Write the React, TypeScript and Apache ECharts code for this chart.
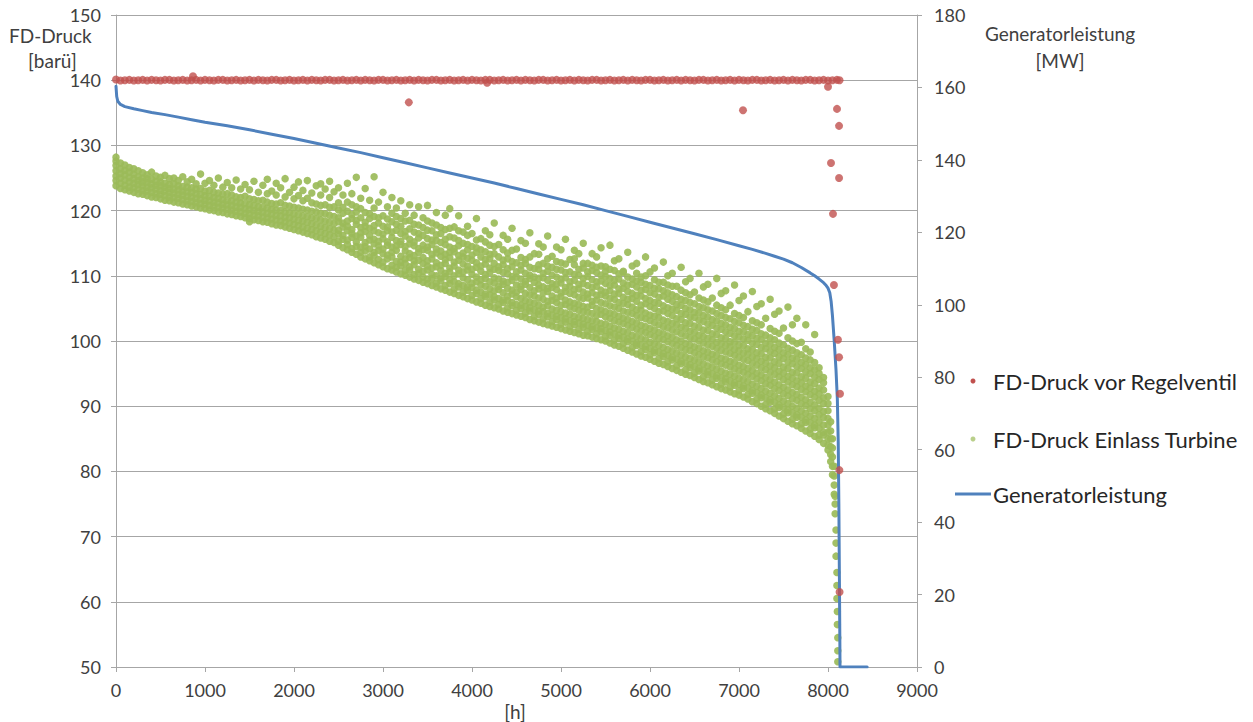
import React, { useEffect, useRef } from "react";
import * as echarts from "echarts";

// ---------- DATA ----------
// Generatorleistung [MW] (right axis) over sorted hours
const blueHours = [0, 8, 20, 50, 100, 200, 300, 400, 550, 700, 850, 1000, 1250, 1500, 1750, 2000, 2250, 2500, 2750, 3000, 3250, 3500, 3750, 4000, 4250, 4500, 4750, 5000, 5250, 5500, 5750, 6000, 6250, 6500, 6750, 7000, 7150, 7300, 7400, 7500, 7600, 7700, 7800, 7850, 7900, 7950, 7980, 8000, 8020, 8035, 8050, 8070, 8090, 8105, 8115, 8122, 8128, 8133, 8135, 8440];
const blueMW = [160.3, 157.5, 156.2, 155.3, 154.7, 154.1, 153.6, 153.1, 152.5, 151.8, 151.1, 150.4, 149.4, 148.3, 147.1, 145.9, 144.6, 143.3, 142.0, 140.6, 139.2, 137.8, 136.4, 135.0, 133.6, 132.1, 130.6, 129.1, 127.6, 126.0, 124.4, 122.8, 121.2, 119.6, 118.0, 116.3, 115.3, 114.2, 113.4, 112.6, 111.6, 110.3, 108.8, 108.0, 107.1, 106.1, 105.3, 104.6, 103.3, 101.0, 97.0, 90.0, 82.0, 74.0, 62.0, 45.0, 25.0, 8.0, 0.0, 0.0];

// FD-Druck vor Regelventil [barü] (left axis)
const redBandHours = [0, 50, 100, 150, 200, 250, 300, 350, 400, 450, 500, 550, 600, 650, 700, 750, 800, 850, 900, 950, 1000, 1050, 1100, 1150, 1200, 1250, 1300, 1350, 1400, 1450, 1500, 1550, 1600, 1650, 1700, 1750, 1800, 1850, 1900, 1950, 2000, 2050, 2100, 2150, 2200, 2250, 2300, 2350, 2400, 2450, 2500, 2550, 2600, 2650, 2700, 2750, 2800, 2850, 2900, 2950, 3000, 3050, 3100, 3150, 3200, 3250, 3300, 3350, 3400, 3450, 3500, 3550, 3600, 3650, 3700, 3750, 3800, 3850, 3900, 3950, 4000, 4050, 4100, 4150, 4200, 4250, 4300, 4350, 4400, 4450, 4500, 4550, 4600, 4650, 4700, 4750, 4800, 4850, 4900, 4950, 5000, 5050, 5100, 5150, 5200, 5250, 5300, 5350, 5400, 5450, 5500, 5550, 5600, 5650, 5700, 5750, 5800, 5850, 5900, 5950, 6000, 6050, 6100, 6150, 6200, 6250, 6300, 6350, 6400, 6450, 6500, 6550, 6600, 6650, 6700, 6750, 6800, 6850, 6900, 6950, 7000, 7050, 7100, 7150, 7200, 7250, 7300, 7350, 7400, 7450, 7500, 7550, 7600, 7650, 7700, 7750, 7800, 7850, 7900, 7950, 8000, 8050, 8100, 8130];
const redBandValues = [140.1, 139.95, 140.0, 140.05, 139.95, 140.0, 140.05, 139.95, 140.05, 140.0, 139.95, 140.05, 140.05, 139.95, 140.0, 140.05, 139.95, 140.0, 140.05, 139.95, 140.05, 140.0, 139.95, 140.05, 140.05, 139.95, 140.0, 140.05, 139.95, 140.0, 140.05, 139.95, 140.05, 140.0, 139.95, 140.05, 140.05, 139.95, 140.0, 140.05, 139.95, 140.0, 140.05, 139.95, 140.05, 140.0, 139.95, 140.05, 140.05, 139.95, 140.0, 140.05, 139.95, 140.0, 140.05, 139.95, 140.05, 140.0, 139.95, 140.05, 140.05, 139.95, 140.0, 140.05, 139.95, 140.0, 140.05, 139.95, 140.05, 140.0, 139.95, 140.05, 140.05, 139.95, 140.0, 140.05, 139.95, 140.0, 140.05, 139.95, 140.05, 140.0, 139.95, 140.05, 140.05, 139.95, 140.0, 140.05, 139.95, 140.0, 140.05, 139.95, 140.05, 140.0, 139.95, 140.05, 140.05, 139.95, 140.0, 140.05, 139.95, 140.0, 140.05, 139.95, 140.05, 140.0, 139.95, 140.05, 140.05, 139.95, 140.0, 140.05, 139.95, 140.0, 140.05, 139.95, 140.05, 140.0, 139.95, 140.05, 140.05, 139.95, 140.0, 140.05, 139.95, 140.0, 140.05, 139.95, 140.05, 140.0, 139.95, 140.05, 140.05, 139.95, 140.0, 140.05, 139.95, 140.0, 140.05, 139.95, 140.05, 140.0, 139.95, 140.05, 140.05, 139.95, 140.0, 140.05, 139.95, 140.0, 140.05, 139.95, 140.05, 140.0, 139.95, 140.05, 140.05, 139.95, 140.0, 140.05, 139.95, 140.0, 140.05, 140.0];
const redOutlierHours = [865, 3290, 4170, 7045, 8000, 8101, 8124, 8034, 8124, 8056, 8067, 8112, 8124, 8135, 8128, 8130];
const redOutlierValues = [140.6, 136.6, 139.6, 135.4, 139.0, 135.6, 133.0, 127.3, 125.0, 119.5, 108.6, 100.2, 97.5, 91.9, 80.2, 61.5];

// FD-Druck Einlass Turbine [barü] (left axis): values read per hour column
const greenHours = [0, 50, 100, 150, 200, 250, 300, 350, 400, 450, 500, 550, 600, 650, 700, 750, 800, 850, 900, 950, 1000, 1050, 1100, 1150, 1200, 1250, 1300, 1350, 1400, 1450, 1500, 1550, 1600, 1650, 1700, 1750, 1800, 1850, 1900, 1950, 2000, 2050, 2100, 2150, 2200, 2250, 2300, 2350, 2400, 2450, 2500, 2550, 2600, 2650, 2700, 2750, 2800, 2850, 2900, 2950, 3000, 3050, 3100, 3150, 3200, 3250, 3300, 3350, 3400, 3450, 3500, 3550, 3600, 3650, 3700, 3750, 3800, 3850, 3900, 3950, 4000, 4050, 4100, 4150, 4200, 4250, 4300, 4350, 4400, 4450, 4500, 4550, 4600, 4650, 4700, 4750, 4800, 4850, 4900, 4950, 5000, 5050, 5100, 5150, 5200, 5250, 5300, 5350, 5400, 5450, 5500, 5550, 5600, 5650, 5700, 5750, 5800, 5850, 5900, 5950, 6000, 6050, 6100, 6150, 6200, 6250, 6300, 6350, 6400, 6450, 6500, 6550, 6600, 6650, 6700, 6750, 6800, 6850, 6900, 6950, 7000, 7050, 7100, 7150, 7200, 7250, 7300, 7350, 7400, 7450, 7500, 7550, 7600, 7650, 7700, 7750, 7800, 7850, 7900, 7950, 8000, 8030, 8050, 8070, 8080, 8090, 8100, 8105, 8110];
const greenValues = [
  [123.8, 124.6, 125.3, 126.1, 126.9, 127.6, 128.2],
  [123.4, 124.2, 125.0, 125.7, 126.4, 127.3],
  [123.2, 123.9, 124.7, 125.5, 126.2, 127.0],
  [123.0, 123.6, 124.4, 125.1, 125.9, 126.6],
  [122.8, 123.5, 124.2, 124.9, 125.6, 126.4],
  [122.6, 123.3, 124.0, 124.6, 125.2, 126.1],
  [122.5, 123.1, 123.8, 124.4, 125.0, 125.8],
  [122.3, 123.0, 123.6, 124.3, 124.9, 125.5],
  [122.1, 122.8, 123.5, 124.1, 124.8, 125.9],
  [122.0, 122.6, 123.3, 123.9, 124.5, 125.3],
  [121.8, 122.5, 123.1, 123.8, 124.4, 125.1],
  [121.6, 122.3, 123.0, 123.6, 124.2, 125.4],
  [121.5, 122.1, 122.8, 123.4, 124.0, 124.9],
  [121.3, 122.0, 122.7, 123.3, 124.1, 125.0],
  [121.2, 121.9, 122.5, 123.2, 123.8, 124.6],
  [121.0, 121.7, 122.4, 123.0, 123.7, 125.2],
  [120.9, 121.5, 122.2, 122.9, 123.6, 124.4],
  [120.7, 121.4, 122.1, 122.8, 123.5, 124.8],
  [120.6, 121.2, 121.9, 122.6, 123.3, 124.1],
  [120.4, 121.1, 121.8, 122.5, 123.4, 125.6],
  [120.3, 121.0, 121.6, 122.3, 123.0, 124.2],
  [120.1, 120.8, 121.5, 122.2, 123.1, 124.6],
  [120.0, 120.7, 121.3, 122.0, 122.8, 123.9],
  [119.8, 120.5, 121.2, 121.9, 122.7, 125.0],
  [119.7, 120.4, 121.0, 121.7, 122.5, 123.6],
  [119.5, 120.2, 120.9, 121.6, 122.6, 124.3],
  [119.4, 120.1, 120.8, 121.5, 122.4, 123.5],
  [119.2, 119.9, 120.6, 121.3, 122.1, 124.7],
  [119.1, 119.8, 120.5, 121.2, 122.0, 123.3],
  [118.9, 119.6, 120.3, 121.1, 122.2, 124.0],
  [118.3, 118.8, 119.5, 120.2, 120.9, 121.8, 123.2],
  [118.6, 119.3, 120.0, 120.8, 121.7, 124.5],
  [118.5, 119.2, 119.9, 120.6, 121.5, 122.8],
  [118.3, 119.0, 119.8, 120.5, 121.6, 123.9],
  [118.2, 118.9, 119.6, 120.4, 121.3, 122.6, 124.8],
  [118.0, 118.7, 119.5, 120.2, 121.1, 123.0],
  [117.8, 118.6, 119.3, 120.1, 121.0, 122.4, 124.2],
  [117.7, 118.4, 119.2, 120.0, 121.2, 123.5],
  [117.5, 118.3, 119.0, 119.8, 120.8, 122.1, 124.9],
  [117.3, 118.1, 118.9, 119.7, 120.7, 122.8],
  [117.1, 117.9, 118.7, 119.5, 120.5, 121.8, 123.6],
  [116.9, 117.7, 118.5, 119.4, 120.4, 122.3, 124.4],
  [116.7, 117.5, 118.4, 119.2, 120.2, 121.5, 123.1],
  [116.5, 117.3, 118.2, 119.1, 120.1, 121.9, 124.6],
  [116.3, 117.1, 118.0, 118.9, 119.9, 121.2, 122.7],
  [116.0, 116.9, 117.8, 118.8, 119.8, 121.0, 123.8],
  [115.8, 116.7, 117.6, 118.6, 119.6, 120.8, 122.4, 124.1],
  [115.6, 116.5, 117.4, 118.4, 119.5, 120.9, 123.3],
  [115.3, 116.3, 117.2, 118.2, 119.3, 120.5, 122.0, 124.5],
  [115.1, 116.0, 117.0, 118.0, 119.1, 120.6, 122.9],
  [114.7, 115.3, 116.4, 117.0, 118.3, 118.9, 120.1, 121.2, 123.5],
  [114.3, 115.6, 116.2, 117.5, 118.1, 119.6, 120.5, 122.4],
  [114.0, 114.8, 115.5, 116.9, 117.6, 118.4, 119.9, 121.3, 124.2],
  [113.6, 114.2, 115.9, 116.5, 117.1, 118.8, 119.4, 120.9, 122.6],
  [113.3, 114.5, 115.2, 116.1, 117.9, 118.5, 119.8, 120.6, 125.1],
  [112.9, 113.6, 114.4, 115.9, 116.6, 117.4, 118.9, 120.3, 121.9],
  [112.6, 113.8, 114.5, 115.1, 116.8, 117.6, 118.2, 119.7, 123.4],
  [112.3, 112.9, 114.1, 115.5, 116.2, 117.3, 118.8, 119.5, 121.6],
  [112.0, 113.1, 113.6, 114.9, 115.6, 116.9, 117.7, 119.1, 120.4, 125.2],
  [111.7, 112.5, 113.9, 114.6, 115.3, 116.6, 118.1, 118.9, 121.3],
  [111.4, 112.1, 113.4, 114.1, 115.7, 116.4, 117.6, 119.2, 122.8],
  [111.1, 112.6, 113.2, 114.7, 115.2, 116.9, 117.5, 118.7, 120.6],
  [110.9, 111.6, 112.9, 113.6, 114.4, 115.9, 116.7, 118.3, 119.6, 122.0],
  [110.6, 111.3, 112.2, 113.9, 114.6, 115.4, 117.0, 117.9, 119.1, 120.4],
  [110.3, 111.5, 112.1, 113.0, 114.8, 115.3, 116.5, 117.6, 118.8, 121.5],
  [110.1, 110.8, 111.9, 112.6, 113.8, 114.5, 116.1, 116.8, 118.4, 119.6],
  [109.8, 110.9, 111.4, 112.8, 113.4, 114.9, 115.6, 117.2, 118.5, 120.9],
  [109.5, 110.2, 111.7, 112.3, 113.1, 114.6, 115.2, 116.7, 117.9, 119.3],
  [109.3, 110.4, 111.0, 112.4, 113.6, 114.2, 115.8, 116.5, 117.8, 120.6],
  [109.0, 109.8, 110.7, 111.9, 112.8, 114.0, 114.7, 116.2, 117.4, 118.9],
  [108.8, 109.5, 110.9, 111.5, 112.3, 113.9, 114.4, 115.7, 117.0, 118.4, 120.8],
  [108.5, 109.6, 110.2, 111.2, 112.6, 113.3, 114.8, 115.5, 116.9, 118.1],
  [108.3, 108.9, 110.0, 111.4, 112.0, 113.5, 114.1, 115.4, 116.3, 117.8, 119.7],
  [108.0, 109.2, 109.7, 110.8, 111.6, 113.0, 113.8, 115.1, 116.5, 117.4],
  [107.8, 108.5, 109.9, 110.4, 111.9, 112.5, 113.3, 114.8, 115.6, 117.1, 119.3],
  [107.5, 108.8, 109.4, 110.6, 111.2, 112.8, 113.6, 114.4, 116.0, 117.3, 120.3],
  [107.3, 108.0, 109.1, 110.0, 111.5, 112.1, 113.7, 114.2, 115.8, 117.5],
  [107.0, 108.3, 108.8, 110.3, 110.9, 112.4, 113.1, 114.6, 115.4, 116.9, 119.2],
  [106.8, 107.5, 108.5, 109.7, 110.6, 111.8, 112.9, 113.5, 115.0, 116.7],
  [106.5, 107.8, 108.3, 109.4, 110.9, 111.5, 112.7, 114.0, 114.8, 116.2, 117.6],
  [106.3, 107.0, 108.2, 108.9, 110.2, 111.0, 112.4, 113.2, 114.5, 116.5],
  [106.0, 107.3, 107.8, 109.1, 109.8, 111.3, 112.0, 113.6, 114.3, 115.5, 118.8],
  [105.8, 106.5, 107.5, 108.6, 109.4, 110.7, 111.5, 112.9, 114.0, 115.7],
  [105.5, 106.8, 107.2, 108.4, 109.6, 110.2, 111.8, 112.5, 113.7, 115.2, 116.9],
  [105.3, 106.0, 107.1, 108.0, 109.1, 110.5, 111.2, 112.6, 113.3, 114.7, 116.3],
  [105.1, 106.3, 106.8, 107.7, 108.9, 109.7, 111.0, 111.9, 113.4, 114.5, 118.1],
  [104.9, 105.6, 106.5, 107.9, 108.4, 109.5, 110.8, 111.4, 112.9, 114.8],
  [104.6, 105.9, 106.3, 107.4, 108.7, 109.2, 110.5, 111.7, 112.4, 114.0, 116.2],
  [104.4, 105.1, 106.2, 106.9, 108.1, 109.0, 110.3, 111.1, 112.6, 113.5, 115.6],
  [104.2, 105.4, 105.9, 107.2, 107.8, 109.3, 109.9, 111.4, 112.2, 113.9, 117.3],
  [104.0, 104.7, 105.6, 106.8, 107.5, 108.6, 109.8, 110.6, 112.0, 114.1],
  [103.8, 105.0, 105.5, 106.5, 107.9, 108.4, 109.5, 110.9, 111.6, 112.8, 115.4],
  [103.6, 104.3, 105.3, 106.2, 107.3, 108.7, 109.2, 110.4, 111.9, 112.5, 115.0],
  [103.3, 104.6, 105.1, 106.0, 107.1, 108.2, 109.6, 110.1, 111.3, 112.9, 116.6],
  [103.1, 103.8, 104.8, 105.8, 106.9, 107.7, 109.0, 109.8, 111.1, 113.4],
  [102.9, 104.1, 104.6, 105.5, 106.6, 108.0, 108.6, 109.6, 111.0, 111.7, 113.3, 114.9],
  [102.7, 103.4, 104.5, 105.2, 106.4, 107.4, 108.3, 109.7, 110.4, 111.9, 114.4],
  [102.5, 103.7, 104.2, 105.4, 106.1, 107.6, 108.1, 109.3, 110.7, 111.5, 112.6, 116.1],
  [102.3, 103.0, 104.0, 104.9, 106.2, 106.9, 108.2, 108.8, 110.1, 111.3, 113.0],
  [102.1, 103.3, 103.8, 104.7, 105.9, 106.6, 107.9, 108.7, 109.8, 111.0, 112.2, 114.4],
  [101.9, 102.6, 103.6, 104.5, 105.5, 106.8, 107.4, 108.9, 109.5, 110.9, 112.0, 114.0],
  [101.7, 102.9, 103.4, 104.3, 105.6, 106.3, 107.6, 108.2, 109.7, 110.5, 111.8, 115.6],
  [101.5, 102.2, 103.1, 104.1, 105.2, 106.0, 107.3, 108.4, 109.1, 110.6, 112.5],
  [101.3, 102.5, 103.0, 103.8, 105.0, 105.8, 107.1, 107.9, 109.3, 110.2, 111.7, 112.6, 113.9],
  [101.1, 101.8, 102.8, 103.6, 104.7, 105.6, 106.7, 108.0, 108.7, 110.1, 111.0, 113.4],
  [100.9, 102.1, 102.6, 103.5, 104.5, 105.3, 106.5, 107.5, 108.8, 109.6, 111.2, 111.9, 115.0],
  [100.8, 101.5, 102.4, 103.3, 104.4, 105.2, 106.6, 107.2, 108.5, 109.9, 110.6, 111.9],
  [100.6, 101.8, 102.2, 103.1, 104.2, 105.5, 106.1, 107.4, 108.2, 109.4, 110.8, 111.6, 113.4],
  [100.4, 101.1, 102.0, 103.0, 103.9, 105.0, 106.3, 107.0, 108.4, 109.1, 110.5, 111.3, 112.9],
  [100.2, 101.4, 101.9, 102.7, 104.1, 104.8, 105.9, 107.1, 107.8, 109.2, 110.1, 111.5, 114.3],
  [100.0, 100.7, 101.6, 102.6, 103.7, 104.5, 105.7, 106.9, 107.5, 108.8, 109.9, 110.7, 111.4],
  [99.7, 100.9, 101.4, 102.3, 103.5, 104.3, 105.4, 106.5, 107.7, 108.5, 109.6, 111.0, 114.7],
  [99.4, 100.1, 101.1, 102.0, 103.1, 104.1, 105.2, 106.4, 107.2, 108.6, 109.3, 110.8, 112.3],
  [99.2, 100.4, 100.9, 101.8, 102.9, 103.8, 105.0, 105.9, 107.3, 108.0, 109.5, 110.3, 112.6],
  [98.9, 99.6, 100.6, 101.5, 102.7, 103.5, 104.6, 105.8, 106.7, 108.1, 108.9, 110.5, 110.7],
  [98.6, 99.9, 100.3, 101.3, 102.4, 103.3, 104.4, 105.6, 106.4, 107.6, 108.6, 109.8, 113.6],
  [98.3, 99.0, 100.0, 100.9, 102.1, 103.0, 104.2, 105.2, 106.5, 107.3, 108.7, 109.5, 111.5],
  [98.0, 99.3, 99.7, 100.7, 101.8, 102.8, 103.9, 104.8, 106.1, 107.0, 108.3, 109.2, 110.4, 111.9],
  [97.7, 98.4, 99.4, 100.4, 101.5, 102.4, 103.6, 104.7, 105.5, 106.9, 107.8, 109.0, 109.8],
  [97.5, 98.7, 99.2, 100.2, 101.3, 102.2, 103.4, 104.3, 105.7, 106.5, 107.9, 108.7, 110.0, 112.9],
  [97.2, 97.9, 98.9, 99.8, 101.0, 101.9, 103.1, 104.0, 105.3, 106.2, 107.4, 108.5, 110.6],
  [96.9, 98.2, 98.6, 99.6, 100.7, 101.7, 102.8, 103.8, 105.0, 105.9, 107.2, 108.1, 109.4, 111.2],
  [96.6, 97.3, 98.3, 99.3, 100.4, 101.3, 102.5, 103.6, 104.5, 105.8, 106.7, 108.0, 109.0],
  [96.4, 97.6, 98.1, 99.0, 100.2, 101.1, 102.2, 103.2, 104.6, 105.4, 106.9, 107.7, 109.0, 112.1],
  [96.1, 96.8, 97.8, 98.7, 99.9, 100.8, 102.0, 103.0, 104.2, 105.1, 106.4, 107.4, 108.6, 110.0],
  [95.8, 97.1, 97.5, 98.5, 99.6, 100.6, 101.7, 102.7, 103.9, 104.9, 106.1, 107.1, 108.4, 110.4],
  [95.5, 96.2, 97.2, 98.2, 99.3, 100.2, 101.4, 102.5, 103.4, 104.7, 105.6, 106.8, 108.4],
  [95.2, 96.5, 96.9, 97.9, 99.0, 100.0, 101.1, 102.1, 103.3, 104.2, 105.5, 106.4, 107.8, 111.3],
  [94.9, 95.6, 96.6, 97.6, 98.7, 99.6, 100.8, 101.9, 102.8, 104.1, 105.0, 106.2, 107.4, 109.1],
  [94.7, 95.9, 96.4, 97.3, 98.5, 99.4, 100.5, 101.5, 102.7, 103.7, 104.8, 105.9, 107.1, 109.6],
  [94.4, 95.1, 96.1, 97.1, 98.2, 99.1, 100.3, 101.3, 102.3, 103.6, 104.4, 105.7, 107.5],
  [94.1, 95.4, 95.8, 96.8, 97.9, 98.9, 100.0, 100.9, 102.1, 103.2, 104.3, 105.3, 106.6, 110.4],
  [93.8, 94.5, 95.5, 96.5, 97.6, 98.5, 99.7, 100.7, 101.7, 103.0, 103.9, 105.1, 106.3, 108.3],
  [93.6, 94.8, 95.3, 96.2, 97.4, 98.3, 99.4, 100.4, 101.6, 102.6, 103.7, 104.8, 106.0, 108.7],
  [93.3, 94.0, 95.0, 96.0, 97.1, 98.0, 99.2, 100.2, 101.1, 102.4, 103.3, 104.6, 106.6],
  [93.0, 94.3, 94.7, 95.7, 96.8, 97.8, 98.9, 99.8, 101.0, 102.0, 103.1, 104.2, 105.5, 109.6],
  [92.7, 93.4, 94.4, 95.4, 96.5, 97.4, 98.6, 99.6, 100.5, 101.8, 102.7, 103.9, 105.1, 107.3],
  [92.5, 93.7, 94.2, 95.1, 96.3, 97.2, 98.3, 99.3, 100.4, 101.4, 102.5, 103.6, 104.8, 107.7],
  [92.2, 92.9, 93.9, 94.9, 96.0, 96.9, 98.1, 99.1, 99.9, 101.2, 102.1, 103.4, 105.5],
  [91.9, 93.2, 93.6, 94.6, 95.7, 96.7, 97.8, 98.7, 99.8, 100.8, 101.9, 103.0, 104.2, 108.6],
  [91.7, 92.4, 93.4, 94.3, 95.4, 96.3, 97.5, 98.5, 99.4, 100.6, 101.5, 102.8, 103.9, 106.2],
  [91.4, 92.7, 93.1, 94.1, 95.2, 96.1, 97.2, 98.2, 99.3, 100.3, 101.4, 102.4, 103.6, 106.9],
  [91.1, 91.8, 92.8, 93.8, 94.9, 95.8, 97.0, 98.0, 98.8, 100.1, 101.0, 102.2, 104.5],
  [90.7, 92.0, 92.4, 93.4, 94.6, 95.5, 96.6, 97.6, 98.7, 99.7, 100.8, 101.8, 103.1, 107.6],
  [90.4, 91.1, 92.1, 93.1, 94.2, 95.1, 96.3, 97.3, 98.2, 99.5, 100.4, 101.6, 102.8, 105.3],
  [90.0, 91.3, 91.7, 92.7, 93.9, 94.8, 95.9, 96.9, 98.0, 99.0, 100.2, 101.1, 102.5, 105.7],
  [89.6, 90.3, 91.3, 92.3, 93.4, 94.4, 95.6, 96.6, 97.5, 98.8, 99.7, 100.9, 103.5],
  [89.3, 90.6, 91.0, 92.0, 93.2, 94.1, 95.2, 96.2, 97.4, 98.4, 99.5, 100.5, 101.9, 106.4],
  [88.9, 89.6, 90.6, 91.6, 92.7, 93.7, 94.9, 95.9, 96.8, 98.1, 99.0, 100.2, 101.5, 104.1],
  [88.5, 89.8, 90.2, 91.2, 92.4, 93.3, 94.5, 95.4, 96.6, 97.6, 98.7, 99.7, 101.2, 104.6],
  [88.1, 88.8, 89.8, 90.8, 91.9, 92.9, 94.1, 95.1, 96.0, 97.3, 98.2, 99.4, 102.0],
  [87.7, 89.0, 89.4, 90.4, 91.6, 92.5, 93.7, 94.6, 95.8, 96.8, 97.9, 98.9, 100.5, 105.2],
  [87.3, 88.0, 89.0, 90.0, 91.1, 92.1, 93.3, 94.3, 95.2, 96.5, 97.4, 98.6, 100.0, 102.5],
  [87.0, 88.3, 88.7, 89.7, 90.9, 91.8, 93.0, 93.9, 95.1, 96.1, 97.2, 98.2, 99.6, 103.5],
  [86.6, 87.3, 88.3, 89.3, 90.4, 91.4, 92.6, 93.6, 94.5, 95.8, 96.7, 97.9, 99.8],
  [86.2, 87.5, 87.9, 88.9, 90.1, 91.0, 92.2, 93.1, 94.3, 95.3, 96.4, 97.4, 98.8, 102.5],
  [85.8, 86.5, 87.5, 88.5, 89.6, 90.6, 91.8, 92.8, 93.7, 95.0, 95.9, 97.1, 98.3],
  [85.4, 86.7, 87.1, 88.1, 89.3, 90.2, 91.4, 92.3, 93.5, 94.5, 95.6, 96.7, 101.0],
  [84.9, 85.6, 86.6, 87.6, 88.7, 89.7, 90.9, 91.9, 92.8, 94.1, 95.0, 95.9],
  [84.3, 85.6, 86.0, 87.1, 88.3, 89.2, 90.4, 91.3, 92.5, 93.6, 94.4],
  [83.3, 84.0, 85.0, 86.0, 87.1, 88.1, 89.3, 90.4, 91.5],
  [81.5, 82.6, 83.8, 85.0, 86.2, 87.6],
  [79.5, 80.8, 82.2, 83.6, 85.0],
  [76.5, 77.9, 79.3, 80.8],
  [73.5, 75.0, 76.2],
  [67.0, 69.0, 71.0],
  [60.5, 62.5, 64.5],
  [56.5, 58.5],
  [50.8, 52.5, 54.5],
];

const xMin = 0, xMax = 9000, xStep = 1000;
const leftMin = 50, leftMax = 150, leftStep = 10;
const rightMin = 0, rightMax = 180, rightStep = 20;

const legendLabels = ["FD-Druck vor Regelventil", "FD-Druck Einlass Turbine", "Generatorleistung"];

// ---------- STYLE ----------
const RED = "#C0504D";
const GREEN = "#9BBB59";
const BLUE = "#4F81BD";
const GRID = "#A6A6A6";
const TEXT = "#404040";
const FONT = "Lato, 'Open Sans', sans-serif";

export default function App() {
  const ref = useRef<HTMLDivElement>(null);

  useEffect(() => {
    document.body.style.margin = "0";
    const chart = echarts.init(ref.current as HTMLDivElement, null, { renderer: "svg" });

    const bluePoints = blueHours.map((h, i) => [h, blueMW[i]]);
    const redPoints = redBandHours.map((h, i) => [h, redBandValues[i]]).concat(
      redOutlierHours.map((h, i) => [h, redOutlierValues[i]])
    );
    const greenPoints: number[][] = [];
    greenHours.forEach((h, i) => {
      greenValues[i].forEach((v) => greenPoints.push([h, v]));
    });

    const legendFont = { fontSize: 22, fontFamily: FONT, fill: "#262626" };
    const nameFont = { fontSize: 19, fontFamily: FONT, fill: TEXT };

    chart.setOption({
      animation: false,
      backgroundColor: "#fff",
      textStyle: { fontFamily: FONT },
      grid: { left: 116, right: 336, top: 15, bottom: 55, containLabel: false },
      xAxis: {
        type: "value",
        min: xMin,
        max: xMax,
        interval: xStep,
        axisLine: { show: true, lineStyle: { color: GRID, width: 1 } },
        axisTick: { show: true, inside: false, length: 5, lineStyle: { color: GRID } },
        axisLabel: { color: TEXT, fontSize: 18, margin: 14, fontFamily: FONT, formatter: (v: number) => String(v) },
        splitLine: { show: false },
      },
      yAxis: [
        {
          type: "value",
          min: leftMin,
          max: leftMax,
          interval: leftStep,
          position: "left",
          axisLine: { show: true, lineStyle: { color: GRID, width: 1 } },
          axisTick: { show: true, inside: false, length: 5, lineStyle: { color: GRID } },
          axisLabel: { color: TEXT, fontSize: 18, margin: 15, fontFamily: FONT, formatter: (v: number) => String(v) },
          splitLine: { show: true, lineStyle: { color: GRID, width: 1 } },
        },
        {
          type: "value",
          min: rightMin,
          max: rightMax,
          interval: rightStep,
          position: "right",
          axisLine: { show: true, lineStyle: { color: GRID, width: 1 } },
          axisTick: { show: true, inside: false, length: 5, lineStyle: { color: GRID } },
          axisLabel: { color: TEXT, fontSize: 18, margin: 17, fontFamily: FONT, formatter: (v: number) => String(v) },
          splitLine: { show: false },
        },
      ],
      series: [
        {
          name: legendLabels[1],
          type: "scatter",
          yAxisIndex: 0,
          data: greenPoints,
          symbol: "circle",
          symbolSize: 7.5,
          itemStyle: { color: GREEN, opacity: 0.92 },
          z: 2,
          silent: true,
        },
        {
          name: legendLabels[2],
          type: "line",
          yAxisIndex: 1,
          data: bluePoints,
          showSymbol: false,
          symbol: "none",
          smooth: false,
          lineStyle: { color: BLUE, width: 3, join: "round", cap: "round" },
          z: 3,
          silent: true,
        },
        {
          name: legendLabels[0],
          type: "scatter",
          yAxisIndex: 0,
          data: redPoints,
          symbol: "circle",
          symbolSize: 8,
          itemStyle: { color: RED },
          z: 4,
          silent: true,
        },
      ],
      graphic: [
        { type: "text", left: 9, top: 26, style: { text: "FD-Druck", ...nameFont } },
        { type: "text", left: 28, top: 51, style: { text: "[barü]", ...nameFont } },
        { type: "text", x: 1060, y: 33, style: { text: "Generatorleistung", ...nameFont, align: "center", verticalAlign: "middle" } },
        { type: "text", x: 1060, y: 60, style: { text: "[MW]", ...nameFont, align: "center", verticalAlign: "middle" } },
        { type: "text", x: 515, y: 711, style: { text: "[h]", ...nameFont, align: "center", verticalAlign: "middle" } },
        { type: "circle", shape: { cx: 973, cy: 381, r: 2.5 }, style: { fill: RED } },
        { type: "text", x: 993, y: 381, style: { text: legendLabels[0], ...legendFont, verticalAlign: "middle" } },
        { type: "circle", shape: { cx: 973, cy: 439, r: 2.5 }, style: { fill: GREEN, opacity: 0.7 } },
        { type: "text", x: 993, y: 439, style: { text: legendLabels[1], ...legendFont, verticalAlign: "middle" } },
        { type: "line", shape: { x1: 955, y1: 494, x2: 991, y2: 494 }, style: { stroke: BLUE, lineWidth: 3 } },
        { type: "text", x: 993, y: 494, style: { text: legendLabels[2], ...legendFont, verticalAlign: "middle" } },
      ],
    });

    return () => chart.dispose();
  }, []);

  return <div ref={ref} style={{ width: 1253, height: 722, background: "#fff" }} />;
}
